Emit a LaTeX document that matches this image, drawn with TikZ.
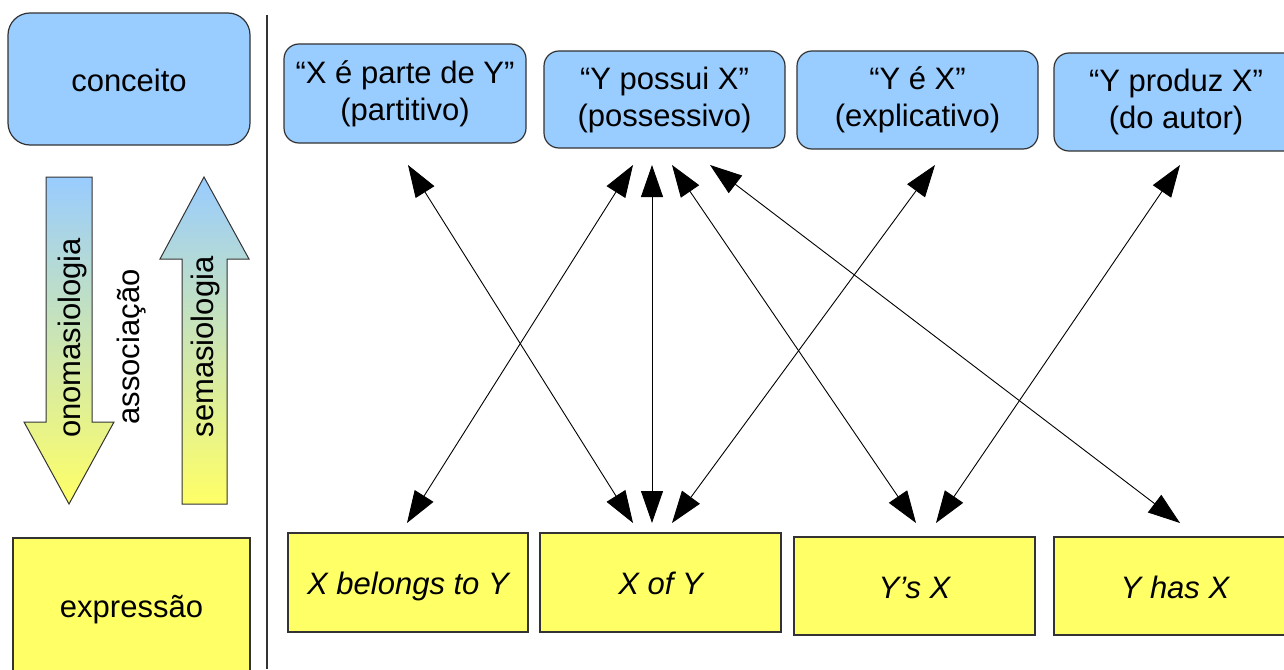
\documentclass[tikz,border=0pt]{standalone}
\usepackage{fontspec}
\setmainfont{Liberation Sans}
\usetikzlibrary{arrows.meta,calc}
\definecolor{cblue}{HTML}{99CCFF}
\definecolor{cyellow}{HTML}{FFFF66}
\definecolor{cline}{HTML}{333333}
\begin{document}
\begin{tikzpicture}[x=1pt,y=-1pt,
  txt/.style={font=\fontsize{31}{37}\selectfont, text=black},
  conbox/.style={draw=cline, line width=1.2pt, fill=cblue, rounded corners=15pt, inner sep=0pt, align=center, txt},
  bigcon/.style={draw=cline, line width=1.2pt, fill=cblue, rounded corners=22pt, inner sep=0pt, txt, text height=24pt, text depth=0pt},
  expbox/.style={draw=cline, line width=1.2pt, fill=cyellow, inner sep=0pt, txt, text height=24pt, text depth=0pt},
  link/.style={line width=0.9pt, {Triangle[length=32pt,width=22pt]}-{Triangle[length=32pt,width=22pt]}},
  bigarrow/.style={draw=cline, line width=1pt, top color=cblue, bottom color=cyellow},
  vlabel/.style={txt, rotate=90, anchor=base, inner sep=0pt}
]
\useasboundingbox (0,0) rectangle (1284,669);
\clip (0,0) rectangle (1284,669);
\fill[white] (0,0) rectangle (1284,669);

% left legend
\node[bigcon, minimum width=242pt, minimum height=132pt] (conceito) at (129,79) {conceito};
\node[expbox, minimum width=237pt, minimum height=134pt] (expressao) at (131.5,605) {expressão};

\path[bigarrow] (46,177) -- (92,177) -- (92,422) -- (114,422) -- (69,504) -- (24,422) -- (46,422) -- cycle;
\path[bigarrow] (182,504) -- (227,504) -- (227,259) -- (249,259) -- (204,177) -- (160,259) -- (182,259) -- cycle;

\node[vlabel] (ono) at (80,338) {onomasiologia};
\node[vlabel] (assoc) at (139,347) {associação};
\node[vlabel] (sema) at (213,347) {semasiologia};

% separator
\coordinate (sepT) at (267,15);
\coordinate (sepB) at (267,669);
\draw[cline, line width=1.6pt] (sepT) -- (sepB);

% concept boxes
\node[conbox, minimum width=242pt, minimum height=99pt] (p1) at (405,93.5) {“X é parte de Y”\\(partitivo)};
\node[conbox, minimum width=241pt, minimum height=97pt] (p2) at (664.5,99.5) {“Y possui X”\\(possessivo)};
\node[conbox, minimum width=241pt, minimum height=98pt] (p3) at (917.5,100) {“Y é X”\\(explicativo)};
\node[conbox, minimum width=244pt, minimum height=98pt] (p4) at (1176,102) {“Y produz X”\\(do autor)};

% expression boxes
\node[expbox, minimum width=240pt, minimum height=99pt] (e1) at (408,582.5) {\itshape X belongs to Y};
\node[expbox, minimum width=241pt, minimum height=99pt] (e2) at (660.5,582.5) {\itshape X of Y};
\node[expbox, minimum width=241pt, minimum height=98pt] (e3) at (914.5,586) {\itshape Y’s X};
\node[expbox, minimum width=242pt, minimum height=98pt] (e4) at (1175,586) {\itshape Y has X};

% connector ends
\coordinate (t1) at (408,165);
\coordinate (t2a) at (633,165);
\coordinate (t2b) at (652,165);
\coordinate (t2c) at (672,165);
\coordinate (t2d) at (710,165);
\coordinate (t3) at (935,165);
\coordinate (t4) at (1180,165);
\coordinate (b1) at (407,523);
\coordinate (b2a) at (633,523);
\coordinate (b2b) at (652,523);
\coordinate (b2c) at (672,523);
\coordinate (b3a) at (916,523);
\coordinate (b3b) at (936,523);
\coordinate (b4) at (1180,523);

\draw[link] (t1) -- (b2a);
\draw[link] (t2a) -- (b1);
\draw[link] (t2b) -- (b2b);
\draw[link] (t2c) -- (b3a);
\draw[link] (t2d) -- (b4);
\draw[link] (t3) -- (b2c);
\draw[link] (t4) -- (b3b);
\end{tikzpicture}
\end{document}
